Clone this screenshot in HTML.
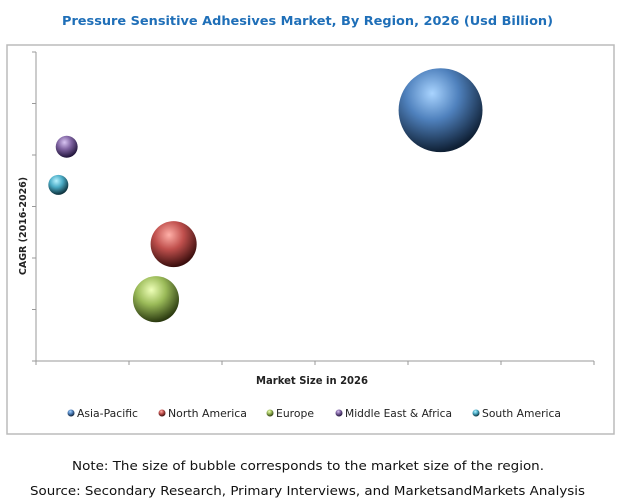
<!DOCTYPE html>
<html><head><meta charset="utf-8">
<style>
body{margin:0;background:#fff;font-family:"DejaVu Sans","Liberation Sans",sans-serif;}
svg{display:block}
</style></head><body>
<svg width="618" height="502">
<defs>
<radialGradient id="gAP" cx="40%" cy="30%" r="70%"><stop offset="0" stop-color="#a9d4ff"/><stop offset="0.45" stop-color="#4f81bd"/><stop offset="1" stop-color="#0f2035"/></radialGradient>
<radialGradient id="gNA" cx="40%" cy="30%" r="70%"><stop offset="0" stop-color="#ffb0a8"/><stop offset="0.45" stop-color="#c0504d"/><stop offset="1" stop-color="#3a0e0d"/></radialGradient>
<radialGradient id="gEU" cx="40%" cy="30%" r="70%"><stop offset="0" stop-color="#eeffb8"/><stop offset="0.45" stop-color="#9bbb59"/><stop offset="1" stop-color="#2b3a10"/></radialGradient>
<radialGradient id="gME" cx="40%" cy="30%" r="70%"><stop offset="0" stop-color="#d8c4f2"/><stop offset="0.45" stop-color="#8064a2"/><stop offset="1" stop-color="#20143a"/></radialGradient>
<radialGradient id="gSA" cx="40%" cy="30%" r="70%"><stop offset="0" stop-color="#b6f2ff"/><stop offset="0.45" stop-color="#4bacc6"/><stop offset="1" stop-color="#0c2f3a"/></radialGradient>
</defs>
<text x="62" y="25" font-size="12.5" font-weight="bold" fill="#1f6fb8" textLength="491" lengthAdjust="spacingAndGlyphs">Pressure Sensitive Adhesives Market, By Region, 2026 (Usd Billion)</text>
<rect x="7" y="45" width="607" height="389" fill="#fff" stroke="#bbb" stroke-width="1.5"/>
<g id="axes"></g>
<g id="bubbles"></g>
<text x="256" y="384" font-size="11" font-weight="bold" fill="#222" textLength="112" lengthAdjust="spacingAndGlyphs">Market Size in 2026</text>
<text transform="translate(26,226) rotate(-90)" text-anchor="middle" font-size="9.5" font-weight="bold" fill="#222">CAGR (2016-2026)</text>
<g id="legend" font-size="11" fill="#222"></g>
<text x="72" y="470" font-size="12.5" fill="#111" textLength="472" lengthAdjust="spacingAndGlyphs">Note: The size of bubble corresponds to the market size of the region.</text>
<text x="30" y="495" font-size="12.5" fill="#111" textLength="555" lengthAdjust="spacingAndGlyphs">Source: Secondary Research, Primary Interviews, and MarketsandMarkets Analysis</text>
</svg>
<script>
const regions=["Asia-Pacific","North America","Europe","Middle East & Africa","South America"];
const marketSize=[4.35,1.48,1.29,0.33,0.24];
const cagr=[4.87,2.27,1.20,4.16,3.42];
const bubbleSize=[17.6,5.3,5.3,1.2,1.0];
const xTicks=[0,1,2,3,4,5,6];
const yTicks=[0,1,2,3,4,5,6];
const grads=["gAP","gNA","gEU","gME","gSA"];
const NS="http://www.w3.org/2000/svg";
const X0=36,X1=594,Y0=361,Y1=52;
const xs=v=>X0+(X1-X0)*v/6, ys=v=>Y0-(Y0-Y1)*v/6, rs=s=>10*Math.sqrt(s);
function mk(t,a,p){const e=document.createElementNS(NS,t);for(const k in a)e.setAttribute(k,a[k]);p.appendChild(e);return e;}
const ax=document.getElementById('axes');
const xl=mk('line',{x1:X0,y1:Y0,x2:X1,y2:Y0,stroke:'#999'},ax);


const yl=mk('line',{x1:X0,y1:Y0,x2:X0,y2:Y1,stroke:'#999'},ax);


xTicks.forEach(t=>{const l=mk('line',{x1:xs(t),y1:Y0,x2:xs(t),y2:Y0+4,stroke:'#999'},ax);

});
yTicks.forEach(t=>{const l=mk('line',{x1:X0-4,y1:ys(t),x2:X0,y2:ys(t),stroke:'#999'},ax);

});
const bg=document.getElementById('bubbles');
regions.forEach((r,i)=>{const c=mk('circle',{cx:xs(marketSize[i]),cy:ys(cagr[i]),r:rs(bubbleSize[i]),fill:'url(#'+grads[i]+')'},bg);

});
const lg=document.getElementById('legend');
const lx=[67,158,266,335,472];
const lw=[61,79,38,107,79];
regions.forEach((r,i)=>{const g=mk('g',{},lg);


mk('circle',{cx:lx[i]+4,cy:413,r:3.5,fill:'url(#'+grads[i]+')'},g);
const t=mk('text',{x:lx[i]+10,y:417,textLength:lw[i],lengthAdjust:'spacingAndGlyphs'},g);t.textContent=r;});
</script>
</body></html>
